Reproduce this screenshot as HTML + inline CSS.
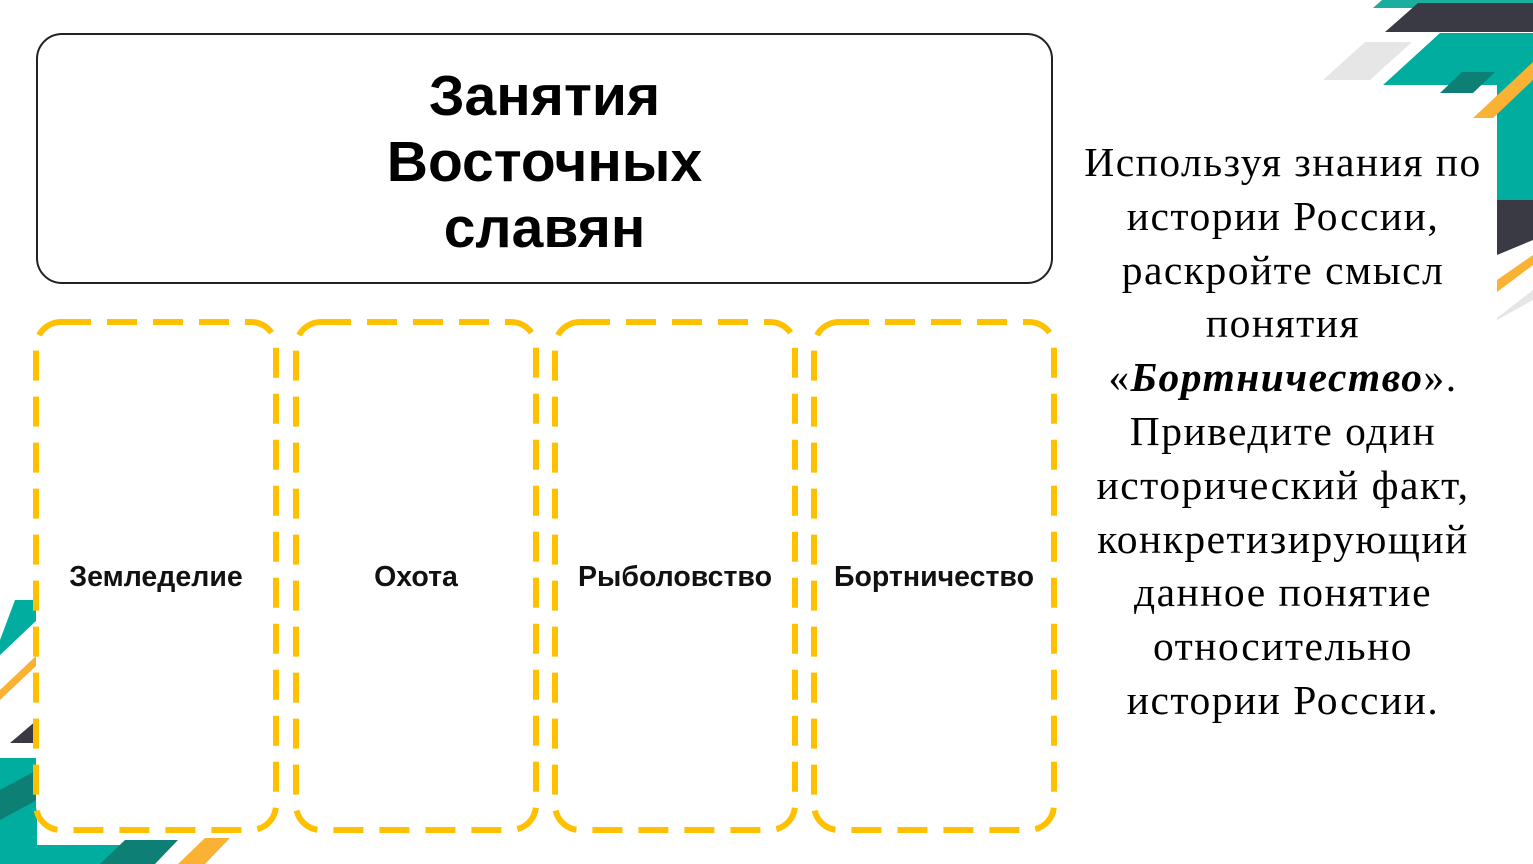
<!DOCTYPE html>
<html><head><meta charset="utf-8"><style>
body{margin:0;width:1533px;height:864px;overflow:hidden;background:#fff;position:relative;font-family:"Liberation Sans",sans-serif}
svg{position:absolute;left:0;top:0}
.t{position:absolute;left:36px;top:33px;width:1017px;height:251px;box-sizing:border-box;border:2px solid #222;border-radius:26px;background:#fff;text-align:center;font-weight:bold;font-size:57px;line-height:66px;padding-top:28px;color:#000}
.l{position:absolute;top:561px;font-weight:bold;font-size:28.5px;text-align:center;color:#111;white-space:nowrap}
.r{position:absolute;left:1050px;top:136px;width:466px;text-align:center;font-family:"Liberation Serif",serif;font-size:41.5px;letter-spacing:1.5px;line-height:53.8px;color:#000;white-space:nowrap}
</style></head><body>
<svg width="1533" height="864">
<polygon points="1373,8 1382,0 1533,0 1533,8" fill="#1aae9f"/>
<polygon points="1385,32 1418,3 1533,3 1533,32" fill="#3a3a44"/>
<polygon points="1383,85 1440,33 1533,33 1533,240 1497,240 1497,85" fill="#00ad9f"/>
<polygon points="1323,80 1365,42 1412,42 1370,80" fill="#e6e6e6"/>
<polygon points="1440,93 1462,72 1495,72 1473,93" fill="#0d7f74"/>
<polygon points="1473,118 1533,62 1533,80 1493,118" fill="#f9b233"/>
<polygon points="1497,200 1533,200 1533,240 1497,255" fill="#3a3a44"/>
<polygon points="1497,280 1533,255 1533,265 1497,292" fill="#f9b233"/>
<polygon points="1497,318 1533,290 1533,300 1497,320" fill="#e6e6e6"/>
<polygon points="0,640 15,600 37,600 37,620 0,655" fill="#00ad9f"/>
<polygon points="0,690 37,655 37,665 0,700" fill="#f9b233"/>
<polygon points="10,743 37,720 37,743" fill="#3a3a44"/>
<polygon points="0,758 37,758 37,845 165,845 150,864 0,864" fill="#00ad9f"/>
<polygon points="0,790 37,770 37,800 0,820" fill="#0d7f74"/>
<polygon points="100,864 125,840 178,840 155,864" fill="#0d7f74"/>
<polygon points="178,864 205,838 230,838 205,864" fill="#f9b233"/>
<g fill="#fff" stroke="#ffc000" stroke-width="6" stroke-dasharray="30 16">
<rect x="36" y="322" width="240" height="508" rx="25"/>
<rect x="296" y="322" width="240" height="508" rx="25"/>
<rect x="555" y="322" width="240" height="508" rx="25"/>
<rect x="814" y="322" width="240" height="508" rx="25"/>
</g>
<rect x="1060" y="127" width="437" height="620" fill="#fff"/>
</svg>
<div class="t">Занятия<br>Восточных<br>славян</div>
<div class="l" style="left:36px;width:240px">Земледелие</div>
<div class="l" style="left:296px;width:240px">Охота</div>
<div class="l" style="left:555px;width:240px">Рыболовство</div>
<div class="l" style="left:814px;width:240px">Бортничество</div>
<div class="r">Используя знания по<br>истории России,<br>раскройте смысл<br>понятия<br>«<b><i>Бортничество</i></b>».<br>Приведите один<br>исторический факт,<br>конкретизирующий<br>данное понятие<br>относительно<br>истории России.</div>
</body></html>
